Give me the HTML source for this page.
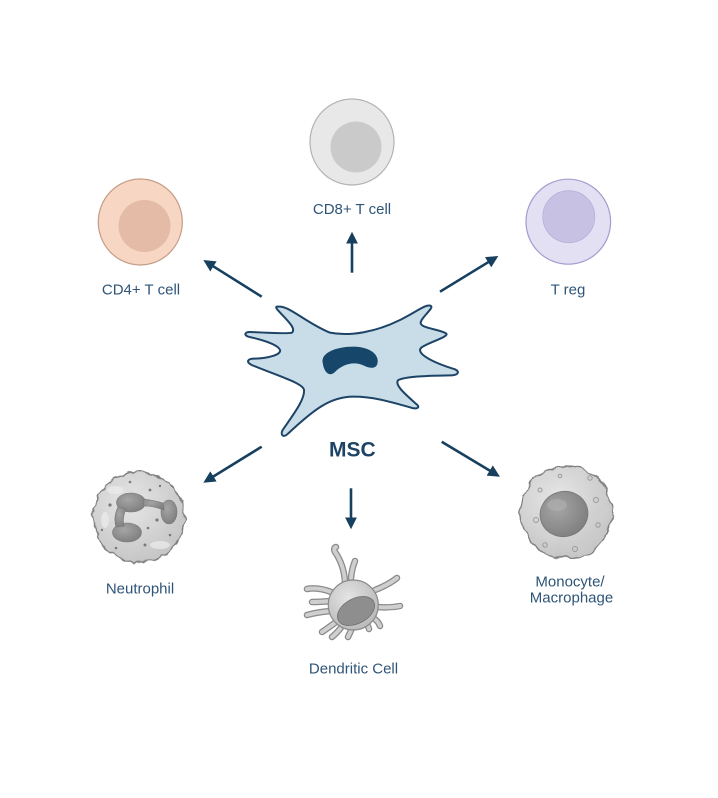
<!DOCTYPE html>
<html>
<head>
<meta charset="utf-8">
<style>
  html,body{margin:0;padding:0;background:#ffffff;}
  svg{display:block;}
  .lbl{font-family:"Liberation Sans",Arial,sans-serif;font-size:15px;fill:#2e5578;text-anchor:middle;}
</style>
</head>
<body>
<svg width="718" height="798" viewBox="0 0 718 798" xmlns="http://www.w3.org/2000/svg">
  <defs>
    <marker id="ah" viewBox="0 0 12 12" refX="4" refY="6" markerWidth="12" markerHeight="12" markerUnits="userSpaceOnUse" orient="auto">
      <path d="M0,0 L12,6 L0,12 Z" fill="#17405f"/>
    </marker>
    <radialGradient id="gN" cx="40%" cy="35%" r="70%">
      <stop offset="0" stop-color="#e6e6e6"/>
      <stop offset="1" stop-color="#c4c4c4"/>
    </radialGradient>
    <radialGradient id="gNuc" cx="40%" cy="35%" r="70%">
      <stop offset="0" stop-color="#a5a5a5"/>
      <stop offset="1" stop-color="#7e7e7e"/>
    </radialGradient>
    <radialGradient id="gD" cx="40%" cy="35%" r="70%">
      <stop offset="0" stop-color="#e4e4e4"/>
      <stop offset="1" stop-color="#b8b8b8"/>
    </radialGradient>
    <filter id="rough" x="-15%" y="-15%" width="130%" height="130%">
      <feTurbulence type="fractalNoise" baseFrequency="0.11" numOctaves="2" seed="4" result="n"/>
      <feDisplacementMap in="SourceGraphic" in2="n" scale="7" xChannelSelector="R" yChannelSelector="G"/>
    </filter>
    <filter id="rough2" x="-15%" y="-15%" width="130%" height="130%">
      <feTurbulence type="fractalNoise" baseFrequency="0.07" numOctaves="2" seed="9" result="n"/>
      <feDisplacementMap in="SourceGraphic" in2="n" scale="9" xChannelSelector="R" yChannelSelector="G"/>
    </filter>
  </defs>

  <!-- CD8+ T cell -->
  <ellipse cx="352" cy="142" rx="42" ry="43" fill="#e8e8e8" stroke="#b3b3b3" stroke-width="1.2"/>
  <circle cx="356" cy="147" r="25.5" fill="#cacaca"/>
  <text class="lbl" x="352" y="214">CD8+ T cell</text>

  <!-- CD4+ T cell -->
  <ellipse cx="140.3" cy="222" rx="42" ry="43" fill="#f8d6c4" stroke="#c49c85" stroke-width="1.2"/>
  <circle cx="144.5" cy="226" r="26" fill="#e3bba7"/>
  <text class="lbl" x="141" y="294.3">CD4+ T cell</text>

  <!-- T reg -->
  <ellipse cx="568.3" cy="221.7" rx="42.3" ry="42.5" fill="#e3e0f3" stroke="#a59bce" stroke-width="1.2"/>
  <circle cx="568.8" cy="216.7" r="26" fill="#c7c2e4" stroke="#b7b0da" stroke-width="0.8"/>
  <text class="lbl" x="568" y="294.5">T reg</text>

  <!-- Arrows -->
  <g stroke="#17405f" stroke-width="2.6" fill="none" marker-end="url(#ah)">
    <line x1="352" y1="272.7" x2="352" y2="239.7"/>
    <line x1="261.7" y1="296.7" x2="210.1" y2="264.3"/>
    <line x1="440" y1="291.7" x2="491.5" y2="260.2"/>
    <line x1="261.7" y1="446.7" x2="210.1" y2="478.5"/>
    <line x1="351" y1="488.3" x2="351" y2="521.3"/>
    <line x1="441.7" y1="441.7" x2="493.1" y2="472.6"/>
  </g>

  <!-- MSC -->
  <g transform="translate(230,290) scale(0.33333)">
    <path d="M 145,50
      C 175,45 230,100 300,128
      C 360,140 440,125 510,90
      C 560,65 590,40 603,48
      C 612,55 570,85 572,100
      C 575,115 630,118 648,130
      C 660,140 600,155 575,172
      C 555,188 600,215 675,238
      C 690,245 685,255 665,256
      C 610,257 530,258 505,270
      C 490,285 535,320 562,345
      C 572,355 555,358 540,352
      C 480,335 430,320 370,320
      C 300,320 250,360 175,430
      C 160,445 150,435 158,420
      C 185,380 225,330 222,300
      C 220,280 150,260 65,225
      C 45,215 55,205 75,206
      C 110,205 155,195 150,180
      C 145,165 100,150 55,140
      C 40,135 45,125 62,126
      C 100,128 170,132 186,128
      C 200,115 170,90 145,62
      C 135,52 138,48 145,50 Z"
      fill="#c9dde9" stroke="#1d4466" stroke-width="6" stroke-linejoin="round"/>
    <path d="M 278,218 C 272,188 320,170 370,170 C 420,170 450,195 442,222 C 437,237 420,236 400,226 C 370,212 335,225 315,246 C 298,262 282,248 278,218 Z" fill="#16466a"/>
  </g>
  <text x="352.3" y="456.7" font-family="Liberation Sans,Arial,sans-serif" font-size="21" font-weight="bold" fill="#1d4466" text-anchor="middle">MSC</text>

  <!-- Neutrophil -->
  <g filter="url(#rough)">
    <circle cx="139" cy="517" r="45.5" fill="url(#gN)" stroke="#808080" stroke-width="1.4"/>
  </g>
  <g fill="#ececec" opacity="0.7">
    <ellipse cx="115" cy="490" rx="8" ry="4"/>
    <ellipse cx="160" cy="545" rx="10" ry="4"/>
    <ellipse cx="105" cy="520" rx="4" ry="8"/>
  </g>
  <g fill="url(#gNuc)" stroke="#777" stroke-width="0.6">
    <ellipse cx="131" cy="502.5" rx="14.5" ry="9.5"/>
    <ellipse cx="169" cy="512" rx="8" ry="12"/>
    <ellipse cx="127" cy="532.5" rx="14.5" ry="9.5"/>
    <path d="M143,499 Q153,500 163,503 L164,510 Q153,506 144,506 Z"/>
    <path d="M118,507 L126,509 Q122,518 124,526 L116,527 Q113,517 118,507 Z"/>
  </g>
  <g fill="#7a7a7a">
    <circle cx="110" cy="505" r="1.6"/><circle cx="150" cy="490" r="1.4"/>
    <circle cx="157" cy="520" r="1.6"/><circle cx="148" cy="528" r="1.3"/>
    <circle cx="160" cy="486" r="1.2"/><circle cx="116" cy="548" r="1.3"/>
    <circle cx="145" cy="545" r="1.5"/><circle cx="170" cy="535" r="1.3"/>
    <circle cx="102" cy="530" r="1.2"/><circle cx="130" cy="482" r="1.3"/>
  </g>
  <text class="lbl" x="140" y="593.3">Neutrophil</text>

  <!-- Dendritic cell -->
  <g fill="none" stroke-linecap="round">
    <g stroke="#8a8a8a" stroke-width="6.5">
      <path d="M345,582 Q344,565 335,552 Q333,548 336,547"/>
      <path d="M351,578 Q352,568 355,561"/>
      <path d="M331,592 Q318,587 307,589"/>
      <path d="M331,601 Q320,602 312,602"/>
      <path d="M331,611 Q318,612 307,615"/>
      <path d="M336,622 Q328,628 322,632"/>
      <path d="M343,625 Q338,632 332,637"/>
      <path d="M352,628 Q350,633 348,637"/>
      <path d="M364,621 Q368,625 369,629"/>
      <path d="M370,616 Q378,620 380,626"/>
      <path d="M377,607 Q390,608 400,606"/>
      <path d="M375,590 Q388,585 397,578"/>
    </g>
    <g stroke="#cfcfcf" stroke-width="4">
      <path d="M345,582 Q344,565 335,552 Q333,548 336,547"/>
      <path d="M351,578 Q352,568 355,561"/>
      <path d="M331,592 Q318,587 307,589"/>
      <path d="M331,601 Q320,602 312,602"/>
      <path d="M331,611 Q318,612 307,615"/>
      <path d="M336,622 Q328,628 322,632"/>
      <path d="M343,625 Q338,632 332,637"/>
      <path d="M352,628 Q350,633 348,637"/>
      <path d="M364,621 Q368,625 369,629"/>
      <path d="M370,616 Q378,620 380,626"/>
      <path d="M377,607 Q390,608 400,606"/>
      <path d="M375,590 Q388,585 397,578"/>
    </g>
  </g>
  <circle cx="353.3" cy="605" r="25" fill="url(#gD)" stroke="#8a8a8a" stroke-width="1.2"/>
  <ellipse cx="356" cy="611" rx="20" ry="12.5" transform="rotate(-28 356 611)" fill="#8e8e8e" stroke="#6f6f6f" stroke-width="0.8"/>
  <text class="lbl" x="353.5" y="673.3">Dendritic Cell</text>

  <!-- Monocyte / Macrophage -->
  <g filter="url(#rough2)">
    <circle cx="566.7" cy="512.5" r="46" fill="url(#gN)" stroke="#808080" stroke-width="1.4"/>
  </g>
  <g fill="none" stroke="#9a9a9a" stroke-width="1">
    <circle cx="536" cy="520" r="2.5"/><circle cx="596" cy="500" r="2.5"/>
    <circle cx="598" cy="525" r="2.2"/><circle cx="545" cy="545" r="2.2"/>
    <circle cx="575" cy="549" r="2.5"/><circle cx="590" cy="478" r="2.2"/>
    <circle cx="540" cy="490" r="2"/><circle cx="560" cy="476" r="1.8"/>
  </g>
  <ellipse cx="564" cy="514" rx="24" ry="22.5" transform="rotate(-15 564 514)" fill="url(#gNuc)" stroke="#767676" stroke-width="0.8"/>
  <ellipse cx="557" cy="505" rx="10" ry="6" fill="#b0b0b0" opacity="0.6"/>
  <text class="lbl" x="570" y="586.7">Monocyte/</text>
  <text class="lbl" x="571.5" y="602.7">Macrophage</text>
</svg>
</body>
</html>
